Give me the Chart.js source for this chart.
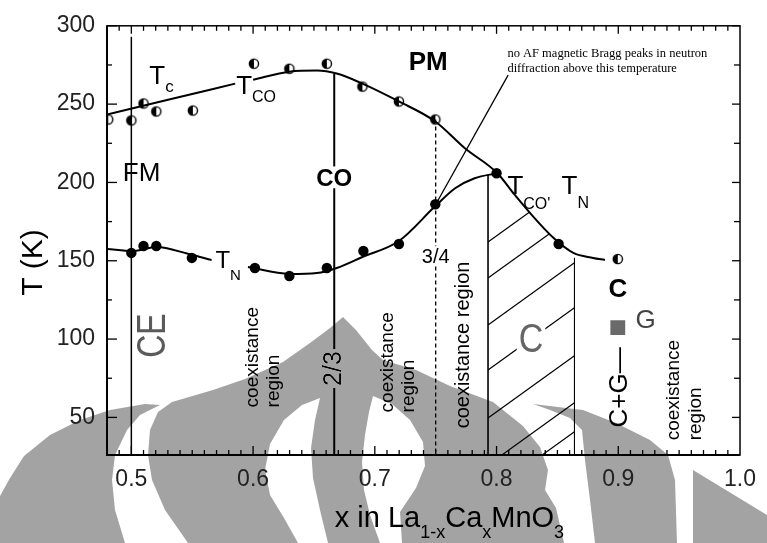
<!DOCTYPE html>
<html>
<head>
<meta charset="utf-8">
<script src="https://cdn.jsdelivr.net/npm/chart.js@4.4.1/dist/chart.umd.min.js"></script>
<style>
  html, body { margin: 0; padding: 0; background: #fff; }
  canvas { display: block; }
</style>
</head>
<body>
<canvas id="c" width="767" height="543"></canvas>
<script>
// ---- axes ----
const xTicks = [0.5, 0.6, 0.7, 0.8, 0.9, 1.0];
const xTickLabels = ['0.5', '0.6', '0.7', '0.8', '0.9', '1.0'];
const yTicks = [50, 100, 150, 200, 250, 300];
const yTickLabels = ['50', '100', '150', '200', '250', '300'];
const yMinorTicks = [75, 125, 175, 225, 275];

// ---- measured points ----
// charge-ordering / Curie temperatures (half-filled symbols)
const tcoX = [0.481, 0.5, 0.51, 0.5205, 0.5505, 0.6007, 0.6298, 0.6606, 0.6898, 0.7198, 0.7497, 0.8996];
const tcoT = [240.2, 239.6, 250.4, 245.3, 245.9, 275.8, 272.6, 275.8, 261.2, 251.7, 240.2, 151.1];
// Neel temperatures (filled symbols)
const tnX = [0.5, 0.51, 0.5205, 0.5497, 0.6015, 0.6298, 0.6606, 0.6906, 0.7198, 0.7497, 0.8, 0.851];
const tnT = [155.0, 159.4, 159.4, 151.8, 145.4, 140.3, 145.4, 156.2, 160.7, 186.1, 205.9, 160.7];
// G-type marker
const gX = [0.8996];
const gT = [107.3];

// ---- guide curves (null = break behind a label) ----
const upperCurveX = [0.48, 0.531, 0.5853, 0.592, 0.6, 0.6298, 0.6525, 0.6687, 0.6898, 0.7198, 0.7497, 0.774, 0.8007, 0.8145, 0.8283, 0.8469, 0.8631, 0.8793, 0.889];
const upperCurveT = [243.4, 252.9, 263.1, null, 265.6, 270.7, 271.4, 269.5, 263.1, 251.7, 238.9, 221.8, 205.9, 192.5, 179.8, 164.5, 155.0, 151.8, 150.5];
const lowerCurveX = [0.48, 0.5011, 0.5205, 0.5472, 0.5659, 0.58, 0.5958, 0.6298, 0.6525, 0.6687, 0.6898, 0.7198, 0.7497, 0.766, 0.782, 0.8007];
const lowerCurveT = [157.5, 156.2, 158.8, 154.3, 150.5, null, 146.0, 141.6, 142.2, 145.4, 152.4, 162.6, 184.9, 196.3, 202.7, 205.9];

// ---- phase boundaries (vertical lines from top value down to the axis) ----
const boundaryX = [0.5, 2 / 3, 0.75, 0.793, 0.864];
const boundaryTop = [293, 269.5, 240.2, 205, 152];

// pointer from the neutron note to the x = 3/4 transition
const pointerX = [0.8095, 0.7515];
const pointerT = [268.5, 188];

const X_MIN = 0.48, X_MAX = 1.0, Y_MIN = 26, Y_MAX = 300;
const FONT = "'Liberation Sans', Arial, Helvetica, sans-serif";
const SERIF = "'Liberation Serif', 'Times New Roman', serif";

const pts = (xs, ys) => xs.map((x, i) => ({ x: x, y: ys[i] }));

function halfDot(r) {
  const s = Math.ceil(2 * r + 4);
  const c = document.createElement('canvas');
  c.width = c.height = s;
  const g = c.getContext('2d');
  const m = s / 2;
  g.fillStyle = '#fff';
  g.beginPath(); g.arc(m, m, r, 0, 2 * Math.PI); g.fill();
  g.fillStyle = '#000';
  g.beginPath(); g.arc(m, m, r, Math.PI / 2, Math.PI * 1.5); g.closePath(); g.fill();
  g.lineWidth = 1.4; g.strokeStyle = '#000';
  g.beginPath(); g.arc(m, m, r, 0, 2 * Math.PI); g.stroke();
  return c;
}

const boundaryStyles = [
  { w: 1.5, dash: [] },
  { w: 2, dash: [] },
  { w: 1.3, dash: [4, 3] },
  { w: 1.6, dash: [] },
  { w: 1.1, dash: [] }
];

const datasets = [
  {
    data: pts(upperCurveX, upperCurveT), showLine: true, pointRadius: 0,
    borderColor: '#000', borderWidth: 2, cubicInterpolationMode: 'monotone', spanGaps: false
  },
  {
    data: pts(lowerCurveX, lowerCurveT), showLine: true, pointRadius: 0,
    borderColor: '#000', borderWidth: 2, cubicInterpolationMode: 'monotone', spanGaps: false
  }
];
boundaryX.forEach((bx, i) => {
  datasets.push({
    data: [{ x: bx, y: boundaryTop[i] }, { x: bx, y: Y_MIN }],
    showLine: true, pointRadius: 0, borderColor: '#000',
    borderWidth: boundaryStyles[i].w, borderDash: boundaryStyles[i].dash
  });
});
datasets.push({
  data: pts(pointerX, pointerT), showLine: true, pointRadius: 0,
  borderColor: '#000', borderWidth: 1.3
});
datasets.push({
  data: pts(tcoX, tcoT), showLine: false, pointStyle: halfDot(4.6), pointRadius: 5
});
datasets.push({
  data: pts(tnX, tnT), showLine: false, pointStyle: 'circle', pointRadius: 5.2,
  backgroundColor: '#000', borderColor: '#000', borderWidth: 0
});
datasets.push({
  data: pts(gX, gT), showLine: false, pointStyle: 'rect', pointRadius: 10.5,
  backgroundColor: '#6a6a6a', borderColor: '#6a6a6a', borderWidth: 0
});

// text annotations in data coordinates
const richLabels = [
  { x: 0.5148, T: 262.8, parts: [{ t: 'T', s: 26 }, { t: 'c', s: 17, dy: 8 }] },
  { x: 0.5861, T: 256.7, parts: [{ t: 'T', s: 26 }, { t: 'CO', s: 16, dy: 8 }] },
  { x: 0.5691, T: 145.4, parts: [{ t: 'T', s: 24 }, { t: 'N', s: 15, dy: 12 }] },
  { x: 0.8089, T: 192.5, parts: [{ t: 'T', s: 26 }, { t: "CO'", s: 16, dy: 15 }] },
  { x: 0.8534, T: 192.5, parts: [{ t: 'T', s: 26 }, { t: 'N', s: 16, dy: 14 }] },
  { x: 0.7279, T: 272.0, parts: [{ t: 'PM', s: 26, w: 'bold' }] },
  { x: 0.4930, T: 200.8, parts: [{ t: 'FM', s: 26 }] },
  { x: 0.9141, T: 107.3, parts: [{ t: 'G', s: 26, c: '#444' }] }
];
const centeredLabels = [
  { x: 2 / 3, T: 197.6, t: 'CO', s: 24, w: 'bold', bg: true },
  { x: 0.75, T: 148.6, t: '3/4', s: 20, bg: true },
  { x: 0.8996, T: 132.7, t: 'C', s: 26, w: 'bold', mid: true },
  { x: 0.8283, T: 100.9, t: 'C', s: 40, c: '#666', mid: true, bg: true, sx: 0.85 }
];
// vertical text, reading upward; x is the baseline, T the starting end
const verticalLabels = [
  { x: 0.6039, T: 56.4, t: 'coexistance', s: 19 },
  { x: 0.6209, T: 56.4, t: 'region', s: 19 },
  { x: 0.7149, T: 53.2, t: 'coexistance', s: 19 },
  { x: 0.7319, T: 53.2, t: 'region', s: 19 },
  { x: 0.7773, T: 43.0, t: 'coexistance region', s: 20 },
  { x: 0.9498, T: 35.4, t: 'coexistance', s: 19 },
  { x: 0.9676, T: 35.4, t: 'region', s: 19 },
  { x: 0.9069, T: 43.6, t: 'C+G\u2014', s: 26 }
];
const verticalCentered = [
  { x: 0.5189, T: 102.2, t: 'CE', s: 40, c: '#5a5a5a', sx: 0.8 },
  { x: 2 / 3, T: 81.2, t: '2/3', s: 25, bg: true }
];
const noteLines = [
  { x: 0.8089, T: 280.3, t: 'no AF magnetic Bragg peaks in neutron' },
  { x: 0.8089, T: 270.2, t: 'diffraction above this temperature' }
];

// hatch of the C region: offsets (px) of each stroke from the bottom edge at the left boundary
const hatchOffsets = [-213, -177, -130, -85, -37, 10, 39];
const HATCH_SLOPE = 0.72;

// background emblem (canvas pixels)
const emblemShapes = [
  [[[0,543],[0,496],[10,478],[24,456],[50,435],[80,420],[110,410],[145,404],[160,405],[140,415],[127,430],[115,455],[112,480],[115,510],[125,543]]],
  [[[188,543],[165,510],[152,480],[148,455],[150,430],[158,412],[172,402],[213,390],[245,379],[283,362],[310,343],[330,328],[343,317],[356,330],[372,350],[383,360],[416,370],[450,386],[493,402],[523,426],[540,447],[548,470],[545,490],[556,508],[564,543]],
   [[320,398],[302,405],[284,420],[270,444],[265,470],[270,495],[284,518],[298,543],[328,543],[320,510],[313,478],[311,448],[315,420]],
   [[373,396],[392,404],[410,420],[423,442],[425,466],[416,488],[400,512],[402,543],[380,543],[370,515],[364,490],[362,462],[365,435],[369,412]]],
  [[[533,404],[583,410],[616,423],[650,440],[668,455],[675,480],[677,543],[595,543],[590,500],[585,460],[582,430],[570,418],[550,410]]],
  [[[693,470],[767,515],[767,543],[693,543]]]
];

function drawParts(ctx, parts, x, y) {
  let cx = x;
  parts.forEach(p => {
    ctx.font = (p.w || 'normal') + ' ' + p.s + 'px ' + FONT;
    ctx.fillStyle = p.c || '#000';
    ctx.fillText(p.t, cx, y + (p.dy || 0));
    cx += ctx.measureText(p.t).width;
  });
}

const decor = {
  id: 'decor',
  beforeDatasetsDraw(chart) {
    const { ctx, chartArea: a, scales: { x, y } } = chart;
    // hatch inside the C region, below the upper curve
    const L = x.getPixelForValue(boundaryX[3]);
    const R = x.getPixelForValue(boundaryX[4]);
    const B = a.bottom;
    const curve = chart.getDatasetMeta(0).data.filter(e => !e.skip && isFinite(e.y) && e.x > L - 40);
    ctx.save();
    ctx.beginPath(); ctx.rect(L, a.top, R - L, B - a.top); ctx.clip();
    ctx.beginPath();
    ctx.moveTo(curve[0].x, curve[0].y);
    curve.forEach(e => ctx.lineTo(e.x, e.y));
    ctx.lineTo(curve[curve.length - 1].x, B);
    ctx.lineTo(curve[0].x, B);
    ctx.closePath();
    ctx.clip();
    ctx.strokeStyle = '#000'; ctx.lineWidth = 1.2;
    hatchOffsets.forEach(o => {
      ctx.beginPath();
      ctx.moveTo(L, B + o);
      ctx.lineTo(R, B + o - HATCH_SLOPE * (R - L));
      ctx.stroke();
    });
    ctx.restore();
  },
  afterDatasetsDraw(chart) {
    const { ctx, chartArea: a, scales: { x, y } } = chart;
    ctx.save();
    // frame
    ctx.strokeStyle = '#000';
    ctx.lineWidth = 1.5;
    ctx.strokeRect(a.left, a.top, a.right - a.left, a.bottom - a.top);
    ctx.lineWidth = 2;
    ctx.beginPath();
    ctx.moveTo(a.left, a.top); ctx.lineTo(a.left, a.bottom); ctx.lineTo(a.right, a.bottom);
    ctx.stroke();
    // inward ticks
    ctx.lineWidth = 1.3;
    const tick = (x1, y1, x2, y2) => { ctx.beginPath(); ctx.moveTo(x1, y1); ctx.lineTo(x2, y2); ctx.stroke(); };
    yTicks.forEach(v => {
      const py = y.getPixelForValue(v);
      tick(a.left, py, a.left + 10, py);
      tick(a.right, py, a.right - 8, py);
    });
    yMinorTicks.forEach(v => {
      const py = y.getPixelForValue(v);
      tick(a.left, py, a.left + 5, py);
      tick(a.right, py, a.right - 6, py);
    });
    for (let k = 49; k <= 99; k++) {
      const v = k / 100;
      const px = x.getPixelForValue(v);
      const major = k % 10 === 0;
      tick(px, a.bottom, px, a.bottom - (major ? 9 : 5));
      tick(px, a.top, px, a.top + (major ? 8 : 5));
    }

    ctx.textAlign = 'left';
    ctx.textBaseline = 'alphabetic';
    richLabels.forEach(l => drawParts(ctx, l.parts, x.getPixelForValue(l.x), y.getPixelForValue(l.T)));

    centeredLabels.forEach(l => {
      const px = x.getPixelForValue(l.x), py = y.getPixelForValue(l.T);
      ctx.font = (l.w || 'normal') + ' ' + l.s + 'px ' + FONT;
      const sx = l.sx || 1;
      const w = ctx.measureText(l.t).width * sx;
      const h = l.s * 0.74;
      const top = l.mid ? py - h / 2 : py - h;
      if (l.bg) { ctx.fillStyle = '#fff'; ctx.fillRect(px - w / 2 - 2, top - 2, w + 4, h + 4); }
      ctx.fillStyle = l.c || '#000';
      ctx.save();
      ctx.translate(px, l.mid ? py + h / 2 : py);
      ctx.scale(sx, 1);
      ctx.textAlign = 'center';
      ctx.fillText(l.t, 0, 0);
      ctx.restore();
    });

    verticalLabels.forEach(l => {
      const px = x.getPixelForValue(l.x), py = y.getPixelForValue(l.T);
      ctx.save();
      ctx.translate(px, py);
      ctx.rotate(-Math.PI / 2);
      ctx.font = l.s + 'px ' + FONT;
      ctx.fillStyle = '#000';
      ctx.textAlign = 'left';
      ctx.fillText(l.t, 0, 0);
      ctx.restore();
    });

    verticalCentered.forEach(l => {
      const px = x.getPixelForValue(l.x), py = y.getPixelForValue(l.T);
      ctx.save();
      ctx.translate(px, py);
      ctx.rotate(-Math.PI / 2);
      ctx.font = l.s + 'px ' + FONT;
      const sx = l.sx || 1;
      const w = ctx.measureText(l.t).width * sx;
      const h = l.s * 0.74;
      if (l.bg) { ctx.fillStyle = '#fff'; ctx.fillRect(-w / 2 - 2, -h / 2 - 2, w + 4, h + 4); }
      ctx.scale(sx, 1);
      ctx.fillStyle = l.c || '#000';
      ctx.textAlign = 'center';
      ctx.textBaseline = 'middle';
      ctx.fillText(l.t, 0, 0);
      ctx.restore();
    });

    ctx.font = '12.5px ' + SERIF;
    ctx.fillStyle = '#000';
    noteLines.forEach(l => ctx.fillText(l.t, x.getPixelForValue(l.x), y.getPixelForValue(l.T), 218));

    // axis titles
    ctx.save();
    ctx.translate(a.left - 65, y.getPixelForValue(127.6));
    ctx.rotate(-Math.PI / 2);
    ctx.font = '30px ' + FONT;
    ctx.fillStyle = '#000';
    ctx.fillText('T (K)', 0, 0);
    ctx.restore();
    drawParts(ctx, [
      { t: 'x in La', s: 29 }, { t: '1-x', s: 18, dy: 11 },
      { t: 'Ca', s: 29 }, { t: 'x', s: 18, dy: 11 },
      { t: 'MnO', s: 29 }, { t: '3', s: 18, dy: 11 }
    ], x.getPixelForValue(0.6671), a.bottom + 72);
    ctx.restore();
  },
  afterDraw(chart) {
    const ctx = chart.ctx;
    ctx.save();
    ctx.globalCompositeOperation = 'darken';
    ctx.fillStyle = '#a3a3a3';
    emblemShapes.forEach(shape => {
      ctx.beginPath();
      shape.forEach(ring => {
        ring.forEach((p, i) => i ? ctx.lineTo(p[0], p[1]) : ctx.moveTo(p[0], p[1]));
        ctx.closePath();
      });
      ctx.fill('evenodd');
    });
    ctx.restore();
  }
};

new Chart(document.getElementById('c'), {
  type: 'scatter',
  data: { datasets: datasets },
  options: {
    responsive: false,
    animation: false,
    devicePixelRatio: 1,
    layout: { padding: { top: 24, right: 18, left: 0, bottom: 0 } },
    plugins: { legend: { display: false }, tooltip: { enabled: false } },
    scales: {
      x: {
        type: 'linear', min: X_MIN, max: X_MAX,
        grid: { display: false, drawTicks: false },
        border: { display: false },
        afterBuildTicks: s => { s.ticks = xTicks.map(v => ({ value: v })); },
        afterFit: s => { s.height = 88; },
        ticks: {
          padding: 11, color: '#222', maxRotation: 0, autoSkip: false,
          font: { family: FONT, size: 23 },
          callback: (v, i) => xTickLabels[i]
        }
      },
      y: {
        type: 'linear', min: Y_MIN, max: Y_MAX,
        grid: { display: false, drawTicks: false },
        border: { display: false },
        afterBuildTicks: s => { s.ticks = yTicks.map(v => ({ value: v })); },
        afterFit: s => { s.width = 107; },
        ticks: {
          padding: 12, color: '#222', autoSkip: false,
          font: { family: FONT, size: 23 },
          callback: (v, i) => yTickLabels[i]
        }
      }
    }
  },
  plugins: [decor]
});
</script>
</body>
</html>
